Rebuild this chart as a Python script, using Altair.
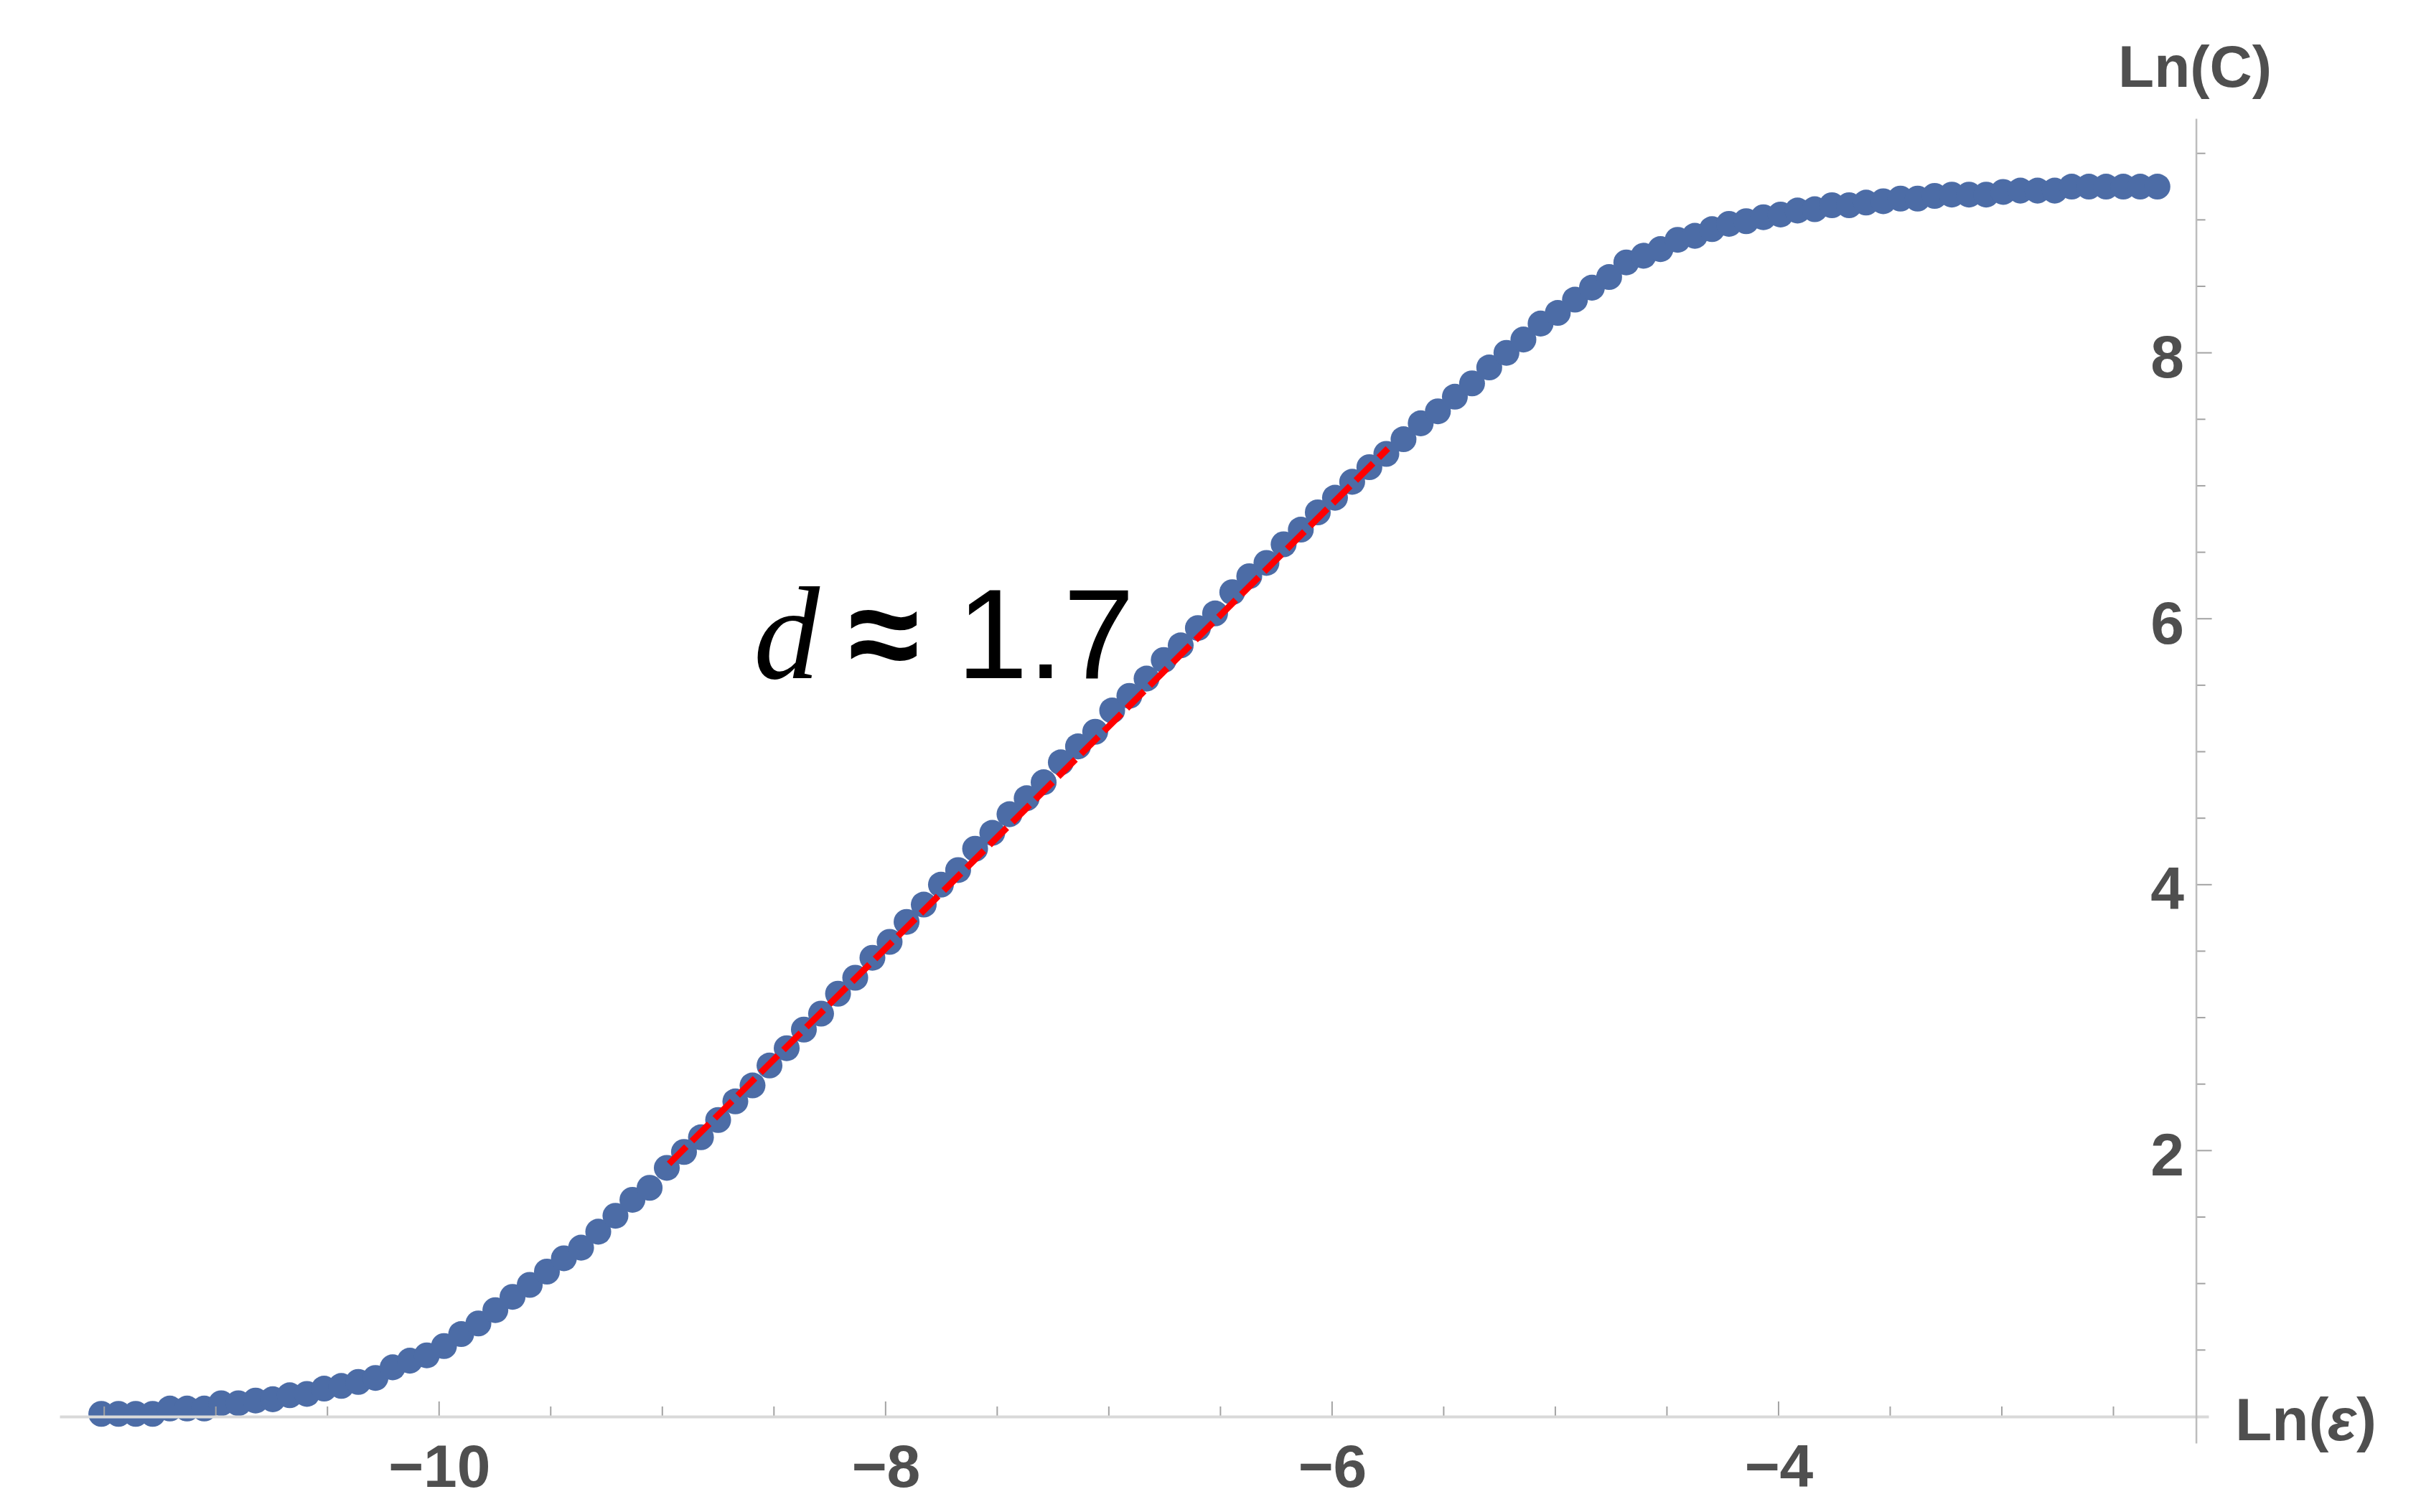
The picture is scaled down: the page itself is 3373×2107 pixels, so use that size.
import altair as alt
import pandas as pd

# ---- data ----
ln_eps = [-11.513, -11.436, -11.359, -11.283, -11.206, -11.129, -11.052, -10.976, -10.899, -10.822,
          -10.745, -10.669, -10.592, -10.515, -10.438, -10.362, -10.285, -10.208, -10.131, -10.055,
          -9.978, -9.901, -9.824, -9.748, -9.671, -9.594, -9.517, -9.441, -9.364, -9.287,
          -9.210, -9.134, -9.057, -8.980, -8.903, -8.827, -8.750, -8.673, -8.596, -8.520,
          -8.443, -8.366, -8.289, -8.213, -8.136, -8.059, -7.982, -7.906, -7.829, -7.752,
          -7.675, -7.599, -7.522, -7.445, -7.368, -7.292, -7.215, -7.138, -7.061, -6.985,
          -6.908, -6.831, -6.754, -6.678, -6.601, -6.524, -6.447, -6.371, -6.294, -6.217,
          -6.140, -6.064, -5.987, -5.910, -5.833, -5.757, -5.680, -5.603, -5.526, -5.450,
          -5.373, -5.296, -5.219, -5.143, -5.066, -4.989, -4.912, -4.836, -4.759, -4.682,
          -4.605, -4.529, -4.452, -4.375, -4.298, -4.222, -4.145, -4.068, -3.991, -3.915,
          -3.838, -3.761, -3.684, -3.608, -3.531, -3.454, -3.377, -3.301, -3.224, -3.147,
          -3.070, -2.994, -2.917, -2.840, -2.763, -2.687, -2.610, -2.533, -2.456, -2.380,
          -2.303]
ln_c = [0.02, 0.02, 0.02, 0.02, 0.06, 0.06, 0.06, 0.10, 0.10, 0.12,
        0.13, 0.16, 0.17, 0.21, 0.23, 0.26, 0.29, 0.37, 0.42, 0.46,
        0.53, 0.62, 0.70, 0.80, 0.90, 0.99, 1.09, 1.19, 1.27, 1.39,
        1.51, 1.63, 1.72, 1.87, 1.99, 2.10, 2.23, 2.37, 2.49, 2.64,
        2.77, 2.91, 3.03, 3.18, 3.30, 3.45, 3.57, 3.72, 3.85, 4.00,
        4.11, 4.27, 4.39, 4.53, 4.65, 4.77, 4.92, 5.04, 5.15, 5.31,
        5.42, 5.55, 5.69, 5.80, 5.93, 6.04, 6.20, 6.32, 6.42, 6.56,
        6.67, 6.80, 6.91, 7.03, 7.14, 7.24, 7.35, 7.47, 7.56, 7.67,
        7.77, 7.89, 8.00, 8.10, 8.22, 8.30, 8.40, 8.49, 8.57, 8.68,
        8.73, 8.78, 8.85, 8.88, 8.93, 8.97, 8.99, 9.02, 9.04, 9.07,
        9.08, 9.11, 9.11, 9.13, 9.14, 9.16, 9.16, 9.18, 9.19, 9.19,
        9.19, 9.21, 9.22, 9.22, 9.22, 9.25, 9.25, 9.25, 9.25, 9.25,
        9.25]

fit_x = [-8.97, -5.75]
fit_y = [1.90, 7.28]

x_major = [-10, -8, -6, -4]
x_minor = [-11.5, -11, -10.5, -9.5, -9, -8.5, -7.5, -7, -6.5, -5.5, -5, -4.5, -3.5, -3, -2.5]
y_major = [2, 4, 6, 8]
y_minor = [0.5, 1, 1.5, 2.5, 3, 3.5, 4.5, 5, 5.5, 6.5, 7, 7.5, 8.5, 9, 9.5]

annot_x = [-8.591, -8.167, -7.681]
annot_y = [5.553, 5.553, 5.553]
annot_text = ["d", "\u2248", "1.7"]

x_title_parts = ["Ln(", "\u03b5", ")"]

# ---- layout ----
XMIN, XMAX = -11.70, -2.074
YMIN, YMAX = -0.2, 9.763
W, H = 2994, 1846
Y_AXIS_AT = -2.13
X_AXIS_AT = 0.0

x_off = (Y_AXIS_AT - XMAX) / (XMAX - XMIN) * W
y_off = -(X_AXIS_AT - YMIN) / (YMAX - YMIN) * H

LABEL_COLOR = "#4f4f4f"
FONT = "Liberation Sans"
DOT = "#4c6ca6"
TICK = "#a3a3a3"

xscale = alt.Scale(domain=[XMIN, XMAX], nice=False, zero=False)
yscale = alt.Scale(domain=[YMIN, YMAX], nice=False, zero=False)

xaxis = alt.Axis(values=x_major, format="d", orient="bottom", offset=y_off,
                 ticks=False, grid=False, domainColor="#d9d9d9", domainWidth=4,
                 labelFont=FONT, labelFontSize=84, labelFontWeight="bold",
                 labelColor=LABEL_COLOR, labelPadding=32, labelOverlap=False,
                 title="", zindex=1)
yaxis = alt.Axis(values=y_major, format="d", orient="right", offset=x_off,
                 ticks=False, grid=False, domainColor="#bdbdbd", domainWidth=2.5,
                 labelFont=FONT, labelFontSize=84, labelFontWeight="bold",
                 labelColor=LABEL_COLOR, labelAlign="right", labelBaseline="middle",
                 labelPadding=-17, labelOffset=9, labelOverlap=False,
                 title="Ln(C)", titleFont=FONT, titleFontSize=82, titleFontWeight="bold",
                 titleColor=LABEL_COLOR, titleX=-2, titleY=-45, titleAlign="center",
                 titleBaseline="alphabetic", titleAngle=0, zindex=1)

df = pd.DataFrame({"x": ln_eps, "y": ln_c})

points = alt.Chart(df).mark_point(shape="circle", filled=True, size=1300, opacity=1,
                                  color=DOT, strokeWidth=0).encode(
    x=alt.X("x:Q", scale=xscale, axis=xaxis),
    y=alt.Y("y:Q", scale=yscale, axis=yaxis),
)

fit = alt.Chart(pd.DataFrame({"x": fit_x, "y": fit_y})).mark_line(
    color="#ff0000", strokeWidth=9, strokeDash=[34, 11]
).encode(x=alt.X("x:Q"), y=alt.Y("y:Q"))

xt_major = alt.Chart(pd.DataFrame({"x": x_major})).mark_tick(
    orient="vertical", size=21, thickness=2, yOffset=-10.5, color=TICK, opacity=1
).encode(x=alt.X("x:Q"), y=alt.datum(X_AXIS_AT))
xt_minor = alt.Chart(pd.DataFrame({"x": x_minor})).mark_tick(
    orient="vertical", size=14, thickness=2, yOffset=-7, color=TICK, opacity=1
).encode(x=alt.X("x:Q"), y=alt.datum(X_AXIS_AT))
yt_major = alt.Chart(pd.DataFrame({"y": y_major})).mark_tick(
    orient="horizontal", size=22, thickness=2, xOffset=11, color=TICK, opacity=1
).encode(y=alt.Y("y:Q"), x=alt.datum(Y_AXIS_AT))
yt_minor = alt.Chart(pd.DataFrame({"y": y_minor})).mark_tick(
    orient="horizontal", size=13, thickness=2, xOffset=6.5, color=TICK, opacity=1
).encode(y=alt.Y("y:Q"), x=alt.datum(Y_AXIS_AT))

t_d = alt.Chart(pd.DataFrame({"x": [annot_x[0]], "y": [annot_y[0]], "t": [annot_text[0]]})).mark_text(
    font="Liberation Serif", fontStyle="italic", fontSize=184, color="black",
    align="left", baseline="alphabetic"
).encode(x=alt.X("x:Q"), y=alt.Y("y:Q"), text="t:N")
t_approx = alt.Chart(pd.DataFrame({"x": [annot_x[1]], "y": [annot_y[1]], "t": [annot_text[1]]})).mark_text(
    font=FONT, fontSize=180, fontWeight="bold", color="black", align="left", baseline="alphabetic"
).encode(x=alt.X("x:Q"), y=alt.Y("y:Q"), text="t:N")
t_val = alt.Chart(pd.DataFrame({"x": [annot_x[2]], "y": [annot_y[2]], "t": [annot_text[2]]})).mark_text(
    font=FONT, fontSize=178, color="black", align="left", baseline="alphabetic"
).encode(x=alt.X("x:Q"), y=alt.Y("y:Q"), text="t:N")

# x-axis title "Ln(ε)" with an italic ε, placed just past the end of the axis line
def title_part(text, dx, italic):
    kw = dict(font=FONT, fontSize=84, fontWeight="bold", color=LABEL_COLOR,
              align="left", baseline="alphabetic", dx=dx, dy=33, text=text)
    if italic:
        kw["fontStyle"] = "italic"
    return alt.Chart(pd.DataFrame({"x": [XMAX]})).mark_text(**kw).encode(
        x=alt.X("x:Q"), y=alt.datum(X_AXIS_AT))

xt1 = title_part(x_title_parts[0], 37, False)
xt2 = title_part(x_title_parts[1], 166, True)
xt3 = title_part(x_title_parts[2], 206, False)

chart = alt.layer(points, fit, xt_major, xt_minor, yt_major, yt_minor,
                  t_d, t_approx, t_val, xt1, xt2, xt3).properties(
    width=W, height=H,
    autosize=alt.AutoSizeParams(type="none"),
    padding={"left": 75, "top": 157, "right": 280, "bottom": 80},
    background="white",
).configure_view(stroke=None)

chart.save("out.html", embed_options={"renderer": "svg", "actions": False})
